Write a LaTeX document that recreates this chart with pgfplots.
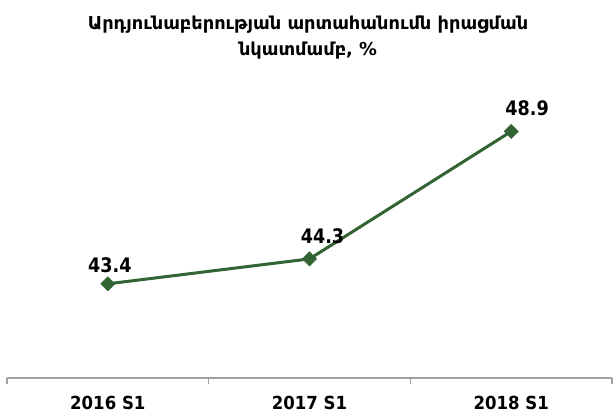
\documentclass[border=0pt]{standalone}
\usepackage{fontspec}
\setmainfont{DejaVu Sans}
\newfontfamily\narrowfont[FakeStretch=0.88]{DejaVu Sans}
\newfontfamily\tickfont[FakeStretch=0.92]{DejaVu Sans}
\usepackage{pgfplots}
\pgfplotsset{compat=1.18}
\definecolor{linegreen}{RGB}{50,99,50}
\definecolor{axgrey}{RGB}{160,160,160}
\begin{document}
\begin{tikzpicture}[x=1bp,y=1bp]
\path[use as bounding box] (0,0) rectangle (615,417);
\node[align=center,font=\fontsize{17.8bp}{26bp}\selectfont\bfseries] at (308,379) {Արդյունաբերության արտահանումն իրացման\\նկատմամբ, \%};
\begin{axis}[
  at={(7bp,39bp)}, anchor=south west,
  scale only axis, width=605bp, height=277bp,
  xmin=-0.5, xmax=2.5, ymin=40, ymax=50,
  axis y line=none, axis x line*=bottom,
  x axis line style={axgrey, line width=1.2bp, -},
  xtick={0,1,2},
  xticklabels={2016 S1,2017 S1,2018 S1},
  major x tick style={draw=none},
  minor xtick={-0.5,0.5,1.5,2.5},
  minor x tick style={axgrey, line width=1.2bp},
  minor tick length=6bp,
  tick align=outside,
  xticklabel style={font=\fontsize{18bp}{20bp}\selectfont\tickfont\bfseries, yshift=-10.5bp},
  clip=false,
]
\addplot[linegreen, line width=3bp, mark=square*, mark size=5bp,
  mark options={fill=linegreen, draw=linegreen, line width=0.5bp, rotate=45},
  nodes near coords, point meta=explicit symbolic,
  visualization depends on={\thisrow{dx} \as \dx},
  visualization depends on={\thisrow{dy} \as \dy},
  nodes near coords style={font=\fontsize{20bp}{22bp}\selectfont\narrowfont\bfseries, black, anchor=south, yshift=\dy bp, xshift=\dx bp}]
table[x=x, y=y, meta=lab] {
x y lab dx dy
0 43.4 43.4 2 7
1 44.3 44.3 13 12
2 48.9 48.9 16 12
};
\end{axis}
\end{tikzpicture}
\end{document}
